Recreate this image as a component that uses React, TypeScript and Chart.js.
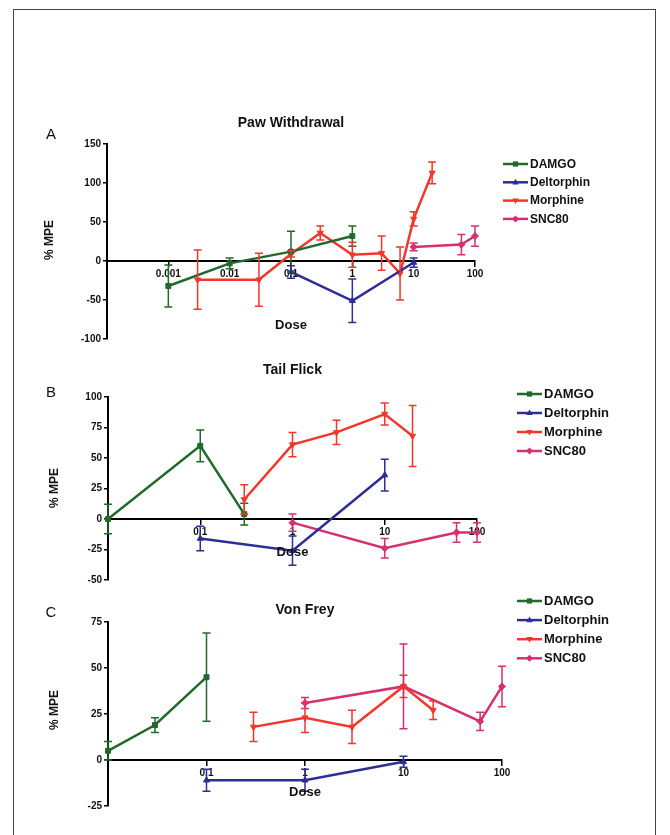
import React, { useEffect, useRef } from "react";
import { Chart, registerables } from "chart.js";

Chart.register(...registerables);

const FONT = "'Liberation Sans', Arial, Helvetica, sans-serif";

const seriesNames = ["DAMGO", "Deltorphin", "Morphine", "SNC80"];
const seriesColors = ["#216a2b", "#2d2d94", "#f3362c", "#d63070"];
const seriesMarkers = ["rect", "triangle", "triangle", "rectRot"];
const seriesRotation = [0, 0, 180, 0];

// ---------- Panel A: Paw Withdrawal ----------
const pawXTicks = [0.001, 0.01, 0.1, 1, 10, 100];
const pawDamgoDose = [0.001, 0.01, 0.1, 1];
const pawDamgoMpe = [-32, -3, 12, 32];
const pawDamgoErr = [27, 7, 26, 13];
const pawDeltDose = [0.1, 1, 10];
const pawDeltMpe = [-14, -51, -2];
const pawDeltErr = [8, 28, 6];
const pawMorphDose = [0.003, 0.03, 0.1, 0.3, 1, 3, 6, 10, 20];
const pawMorphMpe = [-24, -24, 9, 36, 8, 10, -16, 54, 113];
const pawMorphErr = [38, 34, 4, 9, 16, 22, 34, 9, 14];
const pawSncDose = [10, 60, 100];
const pawSncMpe = [18, 21, 32];
const pawSncErr = [5, 13, 13];

// ---------- Panel B: Tail Flick ----------
const tailXTicks = [0.1, 1, 10, 100];
const tailDamgoDose = [0.01, 0.1, 0.3];
const tailDamgoMpe = [0, 60, 4];
const tailDamgoErr = [12, 13, 9];
const tailDeltDose = [0.1, 1, 10];
const tailDeltMpe = [-16, -26, 36];
const tailDeltErr = [10, 12, 13];
const tailMorphDose = [0.3, 1, 3, 10, 20];
const tailMorphMpe = [16, 61, 71, 86, 68];
const tailMorphErr = [12, 10, 10, 9, 25];
const tailSncDose = [1, 10, 60, 100];
const tailSncMpe = [-3, -24, -11, -11];
const tailSncErr = [7, 8, 8, 8];

// ---------- Panel C: Von Frey ----------
const freyXTicks = [0.1, 1, 10, 100];
const freyDamgoDose = [0.01, 0.03, 0.1];
const freyDamgoMpe = [5, 19, 45];
const freyDamgoErr = [5, 4, 24];
const freyDeltDose = [0.1, 1, 10];
const freyDeltMpe = [-11, -11, -1];
const freyDeltErr = [6, 6, 3];
const freyMorphDose = [0.3, 1, 3, 10, 20];
const freyMorphMpe = [18, 23, 18, 40, 27];
const freyMorphErr = [8, 8, 9, 6, 5];
const freySncDose = [1, 10, 60, 100];
const freySncMpe = [31, 40, 21, 40];
const freySncErr = [3, 23, 5, 11];

type Series = { dose: number[]; mpe: number[]; err: number[] };

type PanelCfg = {
  letter: string;
  title: string;
  top: number;
  height: number;
  padTop: number;
  padBottom: number;
  padRight: number;
  axisWidth: number;
  xMin: number;
  xMax: number;
  xTicks: number[];
  yMin: number;
  yMax: number;
  yStep: number;
  series: Series[];
  letterPos: [number, number];
  titleY: number;
  yLabelPos: [number, number];
  doseY: number;
  legendX: number;
  legendY: number;
  legendGap: number;
  legendFont: number;
};

const panels: PanelCfg[] = [
  {
    letter: "A",
    title: "Paw Withdrawal",
    top: 95,
    height: 255,
    padTop: 49,
    padBottom: 11,
    padRight: 195,
    axisWidth: 107,
    xMin: 0.0001,
    xMax: 100,
    xTicks: pawXTicks,
    yMin: -100,
    yMax: 150,
    yStep: 50,
    series: [
      { dose: pawDamgoDose, mpe: pawDamgoMpe, err: pawDamgoErr },
      { dose: pawDeltDose, mpe: pawDeltMpe, err: pawDeltErr },
      { dose: pawMorphDose, mpe: pawMorphMpe, err: pawMorphErr },
      { dose: pawSncDose, mpe: pawSncMpe, err: pawSncErr },
    ],
    letterPos: [51, 40],
    titleY: 28,
    yLabelPos: [50, 145],
    doseY: 230,
    legendX: 503,
    legendY: 69,
    legendGap: 18.3,
    legendFont: 12,
  },
  {
    letter: "B",
    title: "Tail Flick",
    top: 355,
    height: 235,
    padTop: 42,
    padBottom: 10,
    padRight: 193,
    axisWidth: 108,
    xMin: 0.01,
    xMax: 100,
    xTicks: tailXTicks,
    yMin: -50,
    yMax: 100,
    yStep: 25,
    series: [
      { dose: tailDamgoDose, mpe: tailDamgoMpe, err: tailDamgoErr },
      { dose: tailDeltDose, mpe: tailDeltMpe, err: tailDeltErr },
      { dose: tailMorphDose, mpe: tailMorphMpe, err: tailMorphErr },
      { dose: tailSncDose, mpe: tailSncMpe, err: tailSncErr },
    ],
    letterPos: [51, 38],
    titleY: 15,
    yLabelPos: [55, 133],
    doseY: 197,
    legendX: 517,
    legendY: 39,
    legendGap: 19,
    legendFont: 13,
  },
  {
    letter: "C",
    title: "Von Frey",
    top: 592,
    height: 243,
    padTop: 30,
    padBottom: 29,
    padRight: 168,
    axisWidth: 108,
    xMin: 0.01,
    xMax: 100,
    xTicks: freyXTicks,
    yMin: -25,
    yMax: 75,
    yStep: 25,
    series: [
      { dose: freyDamgoDose, mpe: freyDamgoMpe, err: freyDamgoErr },
      { dose: freyDeltDose, mpe: freyDeltMpe, err: freyDeltErr },
      { dose: freyMorphDose, mpe: freyMorphMpe, err: freyMorphErr },
      { dose: freySncDose, mpe: freySncMpe, err: freySncErr },
    ],
    letterPos: [51, 21],
    titleY: 18,
    yLabelPos: [55, 118],
    doseY: 200,
    legendX: 517,
    legendY: 9,
    legendGap: 19.1,
    legendFont: 13,
  },
];

const errorBarPlugin = {
  id: "errorBars",
  afterDatasetsDraw(chart: any) {
    const ctx = chart.ctx;
    const ys = chart.scales.y;
    chart.data.datasets.forEach((ds: any, i: number) => {
      if (!ds.errors) return;
      const meta = chart.getDatasetMeta(i);
      ctx.save();
      ctx.strokeStyle = ds.borderColor;
      ctx.lineWidth = 1.5;
      meta.data.forEach((pt: any, j: number) => {
        const v = ds.data[j].y;
        const e = ds.errors[j];
        const x = pt.x;
        const y1 = ys.getPixelForValue(v + e);
        const y2 = ys.getPixelForValue(v - e);
        ctx.beginPath();
        ctx.moveTo(x, y1);
        ctx.lineTo(x, y2);
        ctx.moveTo(x - 4, y1);
        ctx.lineTo(x + 4, y1);
        ctx.moveTo(x - 4, y2);
        ctx.lineTo(x + 4, y2);
        ctx.stroke();
      });
      ctx.restore();
    });
  },
};

function drawMarker(ctx: CanvasRenderingContext2D, style: string, rot: number, x: number, y: number, r: number) {
  ctx.save();
  ctx.translate(x, y);
  ctx.rotate((rot * Math.PI) / 180);
  ctx.beginPath();
  if (style === "rect") {
    ctx.rect(-r * 0.75, -r * 0.75, r * 1.5, r * 1.5);
  } else if (style === "triangle") {
    ctx.moveTo(0, -r);
    ctx.lineTo(r * 0.9, r * 0.6);
    ctx.lineTo(-r * 0.9, r * 0.6);
    ctx.closePath();
  } else {
    ctx.moveTo(0, -r);
    ctx.lineTo(r, 0);
    ctx.lineTo(0, r);
    ctx.lineTo(-r, 0);
    ctx.closePath();
  }
  ctx.fill();
  ctx.restore();
}

function makeAnnotPlugin(cfg: PanelCfg) {
  return {
    id: "annot",
    afterDraw(chart: any) {
      const ctx: CanvasRenderingContext2D = chart.ctx;
      const ca = chart.chartArea;
      const cx = (ca.left + ca.right) / 2;
      ctx.save();
      ctx.fillStyle = "#111";
      ctx.textAlign = "center";
      ctx.textBaseline = "middle";
      ctx.font = `15px ${FONT}`;
      ctx.fillText(cfg.letter, cfg.letterPos[0], cfg.letterPos[1]);
      ctx.font = `bold 14px ${FONT}`;
      ctx.fillText(cfg.title, cx, cfg.titleY);
      ctx.font = `bold 13px ${FONT}`;
      ctx.fillText("Dose", cx, cfg.doseY);
      ctx.save();
      ctx.translate(cfg.yLabelPos[0], cfg.yLabelPos[1]);
      ctx.rotate(-Math.PI / 2);
      ctx.font = `bold 12px ${FONT}`;
      ctx.fillText("% MPE", 0, 0);
      ctx.restore();
      ctx.textAlign = "left";
      ctx.font = `bold ${cfg.legendFont}px ${FONT}`;
      seriesNames.forEach((name, i) => {
        const y = cfg.legendY + i * cfg.legendGap;
        ctx.strokeStyle = seriesColors[i];
        ctx.fillStyle = seriesColors[i];
        ctx.lineWidth = 2.5;
        ctx.beginPath();
        ctx.moveTo(cfg.legendX, y);
        ctx.lineTo(cfg.legendX + 25, y);
        ctx.stroke();
        drawMarker(ctx, seriesMarkers[i], seriesRotation[i], cfg.legendX + 12.5, y, 3.5);
        ctx.fillStyle = "#111";
        ctx.fillText(name, cfg.legendX + 27, y + 0.5);
      });
      ctx.restore();
    },
  };
}

function Panel({ cfg }: { cfg: PanelCfg }) {
  const ref = useRef<HTMLCanvasElement | null>(null);
  useEffect(() => {
    if (!ref.current) return;
    const datasets = cfg.series.map((s, i) => ({
      label: seriesNames[i],
      data: s.dose.map((d, j) => ({ x: d, y: s.mpe[j] })),
      errors: s.err,
      borderColor: seriesColors[i],
      backgroundColor: seriesColors[i],
      borderWidth: 2.5,
      pointStyle: seriesMarkers[i],
      rotation: seriesRotation[i],
      pointRadius: 3.5,
      pointBorderWidth: 1,
      tension: 0,
      clip: false,
      showLine: true,
      fill: false,
    }));
    const chart = new Chart(ref.current, {
      type: "line",
      data: { datasets: datasets as any },
      plugins: [errorBarPlugin, makeAnnotPlugin(cfg)],
      options: {
        responsive: false,
        animation: false,
        devicePixelRatio: 1,
        layout: {
          padding: { left: 0, right: cfg.padRight, top: cfg.padTop, bottom: cfg.padBottom },
        },
        plugins: {
          legend: { display: false },
          tooltip: { enabled: false },
          title: { display: false },
        },
        scales: {
          x: {
            type: "logarithmic",
            min: cfg.xMin,
            max: cfg.xMax,
            position: { y: 0 } as any,
            afterBuildTicks: (s: any) => {
              s.ticks = cfg.xTicks.map((v) => ({ value: v }));
            },
            ticks: {
              callback: (v: any) => String(v),
              color: "#111",
              font: { family: FONT, size: 10, weight: "bold" },
              padding: 2,
              maxRotation: 0,
              autoSkip: false,
            },
            grid: {
              drawOnChartArea: false,
              drawTicks: true,
              tickLength: 5,
              color: "#000",
              lineWidth: 1.5,
            },
            border: { display: true, color: "#000", width: 2 },
          },
          y: {
            type: "linear",
            min: cfg.yMin,
            max: cfg.yMax,
            afterFit: (s: any) => {
              s.width = cfg.axisWidth;
            },
            ticks: {
              stepSize: cfg.yStep,
              color: "#111",
              font: { family: FONT, size: 10, weight: "bold" },
              padding: 2,
            },
            grid: {
              drawOnChartArea: false,
              drawTicks: true,
              tickLength: 4,
              color: "#000",
              lineWidth: 1.5,
            },
            border: { display: true, color: "#000", width: 2 },
          },
        },
      } as any,
    });
    return () => chart.destroy();
  }, [cfg]);
  return (
    <canvas
      ref={ref}
      width={670}
      height={cfg.height}
      style={{ position: "absolute", left: 0, top: cfg.top, width: 670, height: cfg.height }}
    />
  );
}

export default function App() {
  return (
    <div
      style={{
        position: "absolute",
        left: 0,
        top: 0,
        width: 670,
        height: 835,
        overflow: "hidden",
        background: "#fff",
      }}
    >
      <div
        style={{
          position: "absolute",
          left: 13,
          top: 9,
          width: 643,
          height: 840,
          border: "1.5px solid #444",
          boxSizing: "border-box",
        }}
      />
      {panels.map((p) => (
        <Panel key={p.letter} cfg={p} />
      ))}
    </div>
  );
}
